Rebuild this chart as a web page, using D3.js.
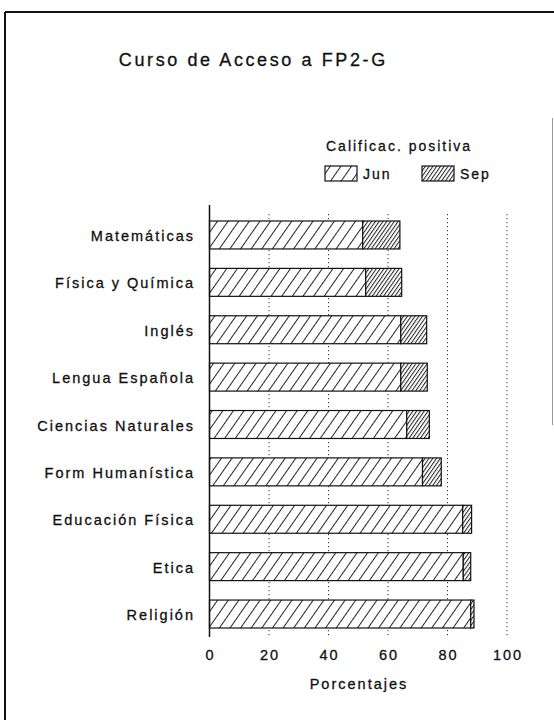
<!DOCTYPE html>
<html>
<head>
<meta charset="utf-8">
<script src="https://cdn.jsdelivr.net/npm/d3@7"></script>
<style>
  body { margin: 0; background: #fff; }
  svg { display: block; }
  text { font-family: "Liberation Sans", Arial, sans-serif; fill: #111; stroke: #111; stroke-width: 0.3px; }
</style>
</head>
<body>
<svg></svg>
<script>
var width = 554;
var height = 720;

var materias = ['Matemáticas', 'Física y Química', 'Inglés', 'Lengua Española',
  'Ciencias Naturales', 'Form Humanística', 'Educación Física', 'Etica', 'Religión'];
var junio = [51.5, 52.5, 64.3, 64.3, 66.3, 71.6, 85.1, 85.3, 87.8];
var septiembre = [12.5, 12.1, 8.7, 8.9, 7.6, 6.3, 3.0, 2.5, 1.1];
var ticks = [0, 20, 40, 60, 80, 100];

var svg = d3.select('svg')
    .attr('width', width)
    .attr('height', height);

var xScale = d3.scaleLinear().domain([0, 100]).range([209.5, 507]);
var yScale = d3.scaleBand().domain(materias).range([221, 628]).paddingInner(0.41).paddingOuter(0);

// hatch patterns
var defs = svg.append('defs');
function hatch(id, gap) {
  var p = defs.append('pattern')
      .attr('id', id)
      .attr('patternUnits', 'userSpaceOnUse')
      .attr('width', gap)
      .attr('height', 10)
      .attr('patternTransform', 'rotate(35)');
  p.append('rect').attr('width', gap).attr('height', 10).attr('fill', '#fff');
  p.append('line')
      .attr('x1', 0.5).attr('y1', 0).attr('x2', 0.5).attr('y2', 10)
      .attr('stroke', '#222').attr('stroke-width', 1);
}
hatch('hJun', 8.7);
hatch('hSep', 3.1);

// frame (scanned page border)
svg.append('line').attr('x1', 5).attr('y1', 12).attr('x2', 554).attr('y2', 12)
    .attr('stroke', '#111').attr('stroke-width', 2);
svg.append('line').attr('x1', 5).attr('y1', 12).attr('x2', 5).attr('y2', 720)
    .attr('stroke', '#111').attr('stroke-width', 2);
svg.append('line').attr('x1', 552.5).attr('y1', 118).attr('x2', 552.5).attr('y2', 425)
    .attr('stroke', '#999').attr('stroke-width', 1);

// title
svg.append('text')
    .attr('x', 252 + 1.3).attr('y', 66)
    .attr('text-anchor', 'middle')
    .style('font-size', '18px')
    .style('letter-spacing', '2.6px')
    .text('Curso de Acceso a FP2-G');

// grid lines
svg.append('g')
  .selectAll('line')
  .data(ticks.slice(1))
  .enter()
  .append('line')
    .attr('x1', d => xScale(d)).attr('x2', d => xScale(d))
    .attr('y1', 214).attr('y2', 637)
    .attr('stroke', '#333')
    .attr('stroke-width', 1)
    .attr('stroke-dasharray', '1.2,2.8');

// bars
var rows = svg.append('g')
  .selectAll('g')
  .data(materias)
  .enter()
  .append('g');

rows.append('rect')
    .attr('x', xScale(0))
    .attr('y', d => yScale(d))
    .attr('width', (d, i) => xScale(junio[i]) - xScale(0))
    .attr('height', yScale.bandwidth())
    .attr('fill', 'url(#hJun)')
    .attr('stroke', '#111')
    .attr('stroke-width', 1.2);

rows.append('rect')
    .attr('x', (d, i) => xScale(junio[i]))
    .attr('y', d => yScale(d))
    .attr('width', (d, i) => xScale(junio[i] + septiembre[i]) - xScale(junio[i]))
    .attr('height', yScale.bandwidth())
    .attr('fill', 'url(#hSep)')
    .attr('stroke', '#111')
    .attr('stroke-width', 1.2);

// category labels
rows.append('text')
    .attr('x', 193 + 2)
    .attr('y', d => yScale(d) + yScale.bandwidth() / 2 + 6)
    .attr('text-anchor', 'end')
    .style('font-size', '14.5px')
    .style('letter-spacing', '2px')
    .text(d => d);

// vertical axis line
svg.append('line')
    .attr('x1', xScale(0)).attr('x2', xScale(0))
    .attr('y1', 205).attr('y2', 637)
    .attr('stroke', '#111').attr('stroke-width', 1.5);

// x tick labels
svg.append('g')
  .selectAll('text')
  .data(ticks)
  .enter()
  .append('text')
    .attr('x', d => xScale(d) + 1)
    .attr('y', 660)
    .attr('text-anchor', 'middle')
    .style('font-size', '14.5px')
    .style('letter-spacing', '2px')
    .text(d => d);

svg.append('text')
    .attr('x', 358 + 1).attr('y', 689)
    .attr('text-anchor', 'middle')
    .style('font-size', '14.5px')
    .style('letter-spacing', '2px')
    .text('Porcentajes');

// legend
svg.append('text')
    .attr('x', 326).attr('y', 151)
    .style('font-size', '14px')
    .style('letter-spacing', '2px')
    .text('Calificac. positiva');

var legendData = [
  {label: 'Jun', fill: 'url(#hJun)', x: 325},
  {label: 'Sep', fill: 'url(#hSep)', x: 422}
];
var legend = svg.append('g')
  .selectAll('g')
  .data(legendData)
  .enter()
  .append('g');
legend.append('rect')
    .attr('x', d => d.x).attr('y', 166)
    .attr('width', 32).attr('height', 15)
    .attr('fill', d => d.fill)
    .attr('stroke', '#111').attr('stroke-width', 1.2);
legend.append('text')
    .attr('x', d => d.x + 38).attr('y', 179)
    .style('font-size', '14px')
    .style('letter-spacing', '2px')
    .text(d => d.label);
</script>
</body>
</html>
